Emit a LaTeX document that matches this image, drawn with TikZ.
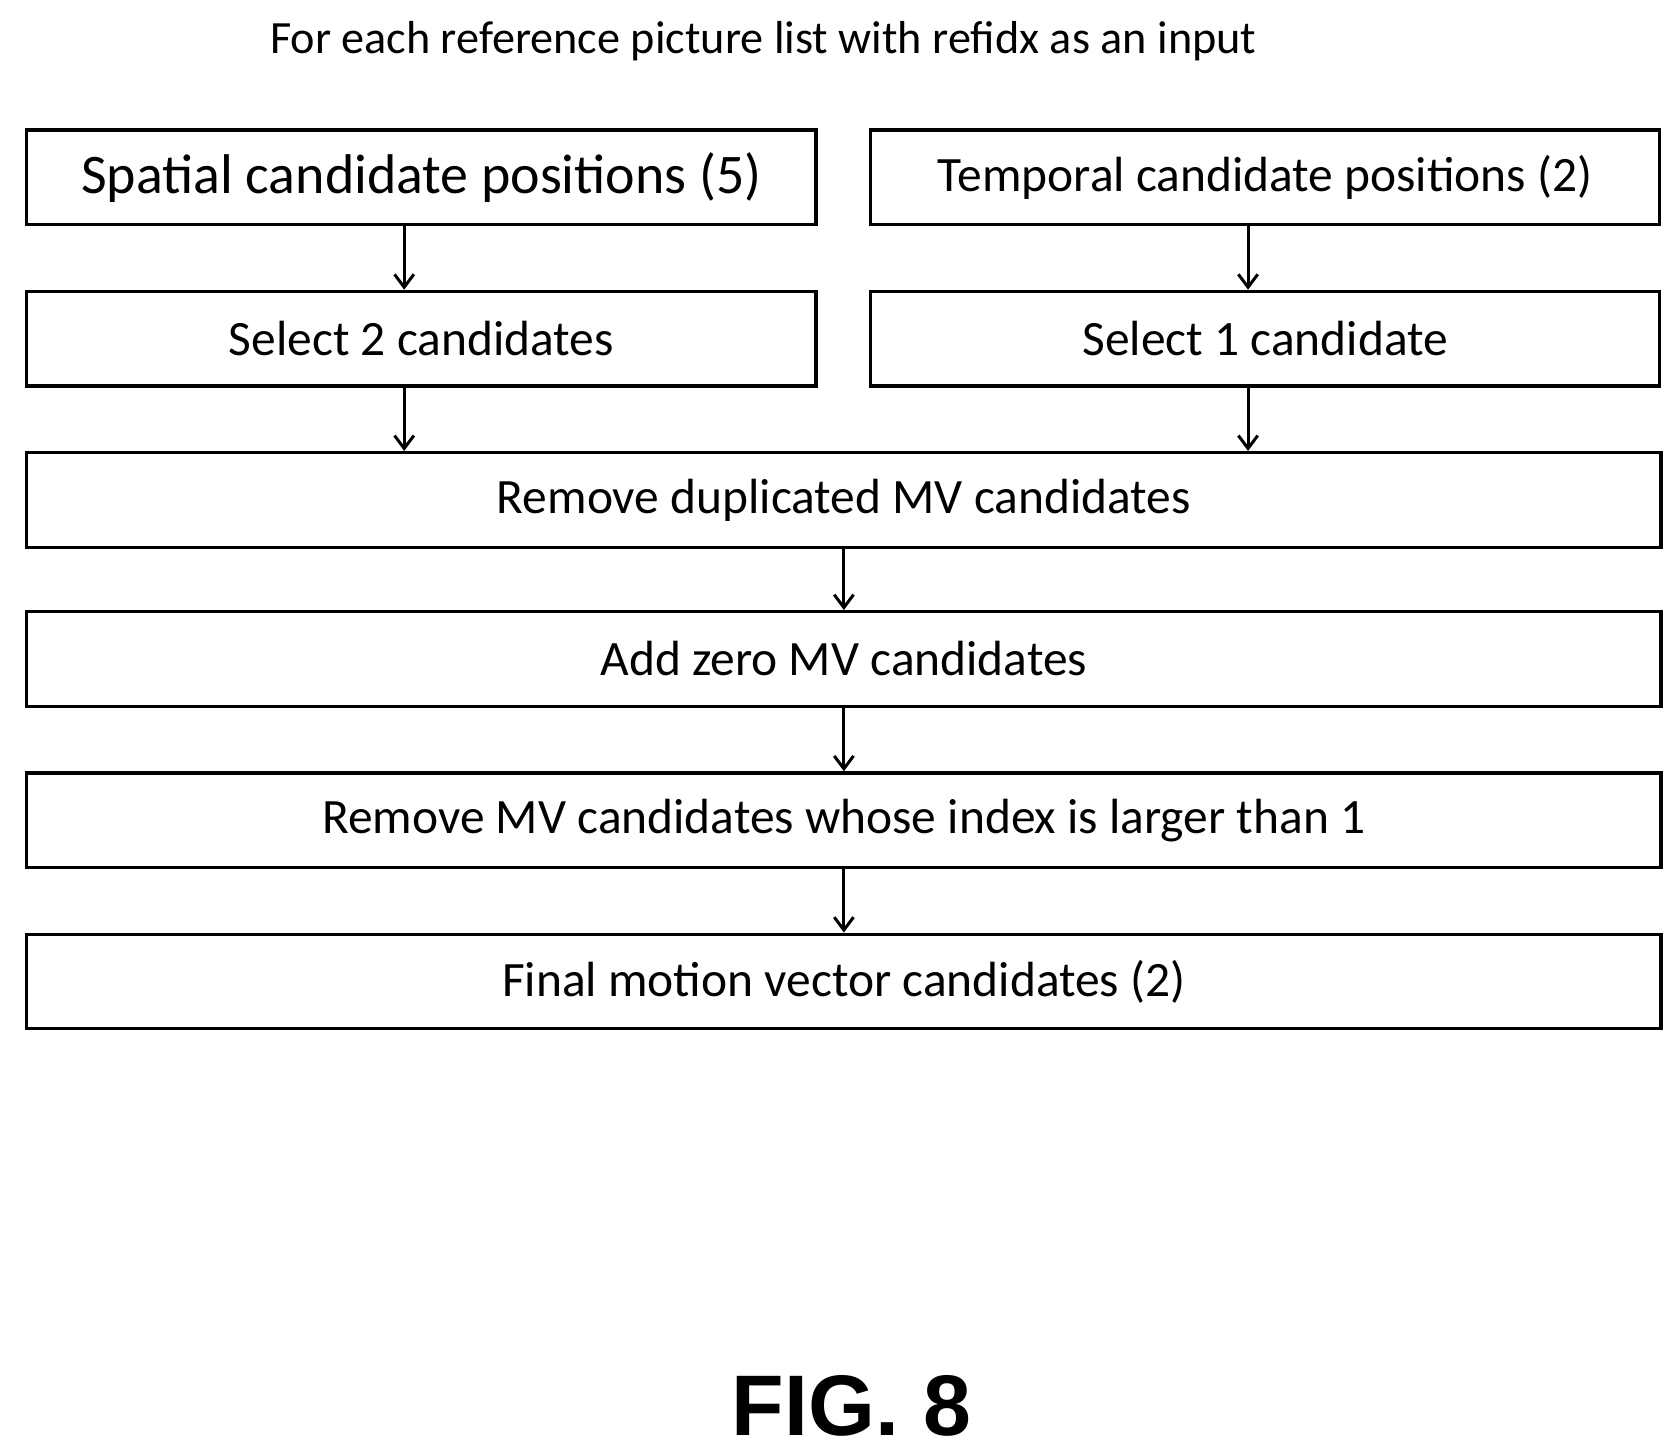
\documentclass[tikz,border=0pt]{standalone}
\usepackage{fontspec}
\setmainfont{Carlito}
\newfontfamily\figfont{Liberation Sans}
\usetikzlibrary{arrows.meta}
\begin{document}
\begin{tikzpicture}[x=0.5pt, y=-0.5pt,
		base/.style={draw, line width=1.5pt, minimum height=44pt, inner sep=0pt, font=\fontsize{23}{26}\selectfont},
		half/.style={base, minimum width=367pt},
		full/.style={base, minimum width=760pt},
		link/.style={-{Straight Barb[length=6pt, width=9pt]}, draw, line width=1.4pt}
	]
	\useasboundingbox (0,0) rectangle (1560,1350);

	\node at (710, 38) (title) {\fontsize{21.5}{25}\selectfont For each reference picture list with refidx as an input};

	\node[half, font=\fontsize{26}{30}\selectfont] at (392, 165) (spatial) {Spatial candidate positions (5)};
	\node[half] at (1177, 165) (temporal) {Temporal candidate positions (2)};
	\node[half] at (392, 315) (sel2) {Select 2 candidates};
	\node[half] at (1177, 315) (sel1) {Select 1 candidate};
	\node[full] at (785, 465) (dup) {Remove duplicated MV candidates};
	\node[full] at (785, 613) (zero) {Add zero MV candidates};
	\node[full] at (785, 763) (index) {Remove MV candidates whose index is larger than 1};
	\node[full] at (785, 913) (final) {Final motion vector candidates (2)};

	\coordinate (xl) at (376, 0);
	\coordinate (xr) at (1161, 0);

	\draw[link] (spatial.south -| xl) -- (sel2.north -| xl);
	\draw[link] (temporal.south -| xr) -- (sel1.north -| xr);
	\draw[link] (sel2.south -| xl) -- (dup.north -| xl);
	\draw[link] (sel1.south -| xr) -- (dup.north -| xr);
	\draw[link] (dup) -- (zero);
	\draw[link] (zero) -- (index);
	\draw[link] (index) -- (final);

	\node at (792, 1308) (fig) {\figfont\bfseries\fontsize{40}{44}\selectfont FIG. 8};
\end{tikzpicture}
\end{document}
